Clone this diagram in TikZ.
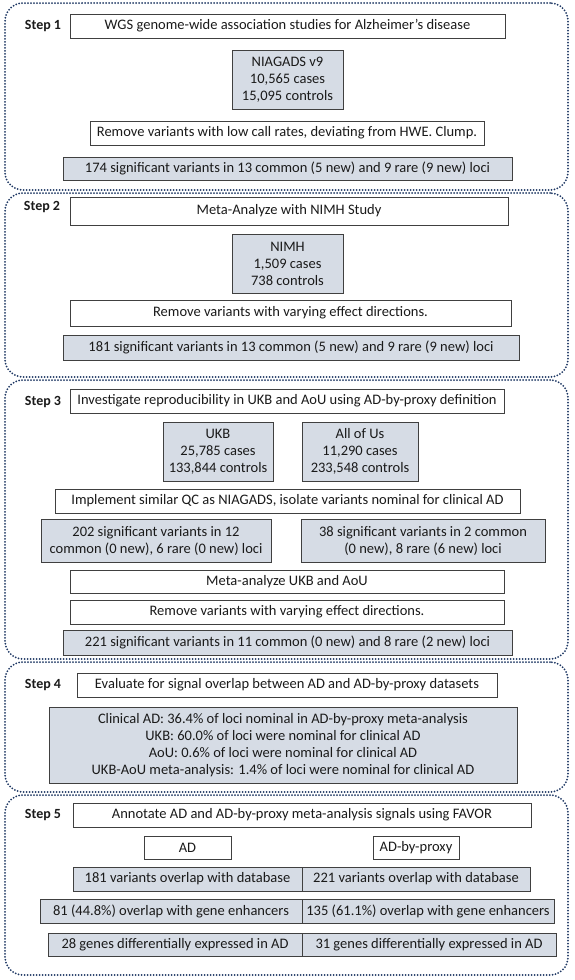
\documentclass[tikz,border=0pt]{standalone}
\usepackage{fontspec}
\setmainfont{Carlito}
\definecolor{panelblue}{HTML}{1F3864}
\definecolor{boxfill}{HTML}{D6DCE5}
\definecolor{boxline}{HTML}{404040}
\definecolor{txt}{HTML}{1A1A1A}
\newcommand\bbox[7]{\node[#1, minimum width={(#5-#3)*1pt}, minimum height={(#6-#4)*1pt}] (#2) at ({(#3+#5)/2},{(#4+#6)/2}) {#7};}
\begin{document}
\begin{tikzpicture}[x=1pt,y=-1pt,
  basebox/.style={draw=boxline, line width=0.9pt, inner sep=0pt, align=center, text=txt,
    font=\fontsize{14.5}{17}\selectfont},
  wbox/.style={basebox, fill=white},
  gbox/.style={basebox, fill=boxfill},
  panel/.style={draw=panelblue, line width=2pt, line cap=round, dash pattern=on 0pt off 3pt,
    rounded corners=18pt, inner sep=0pt},
  steplabel/.style={font=\bfseries\fontsize{14}{16}\selectfont, text=txt, inner sep=0pt}]
\useasboundingbox (0,0) rectangle (575,980);
% panels
\bbox{panel}{p1}{5}{3}{568}{190}{}
\bbox{panel}{p2}{5}{193}{568}{377}{}
\bbox{panel}{p3}{5}{380}{568}{659}{}
\bbox{panel}{p4}{5}{662}{568}{792}{}
\bbox{panel}{p5}{5}{795}{568}{975}{}
% Step 1
\node[steplabel] (s1) at (43,26) {Step 1};
\bbox{wbox}{t1}{70}{14}{505}{38}{WGS genome-wide association studies for Alzheimer’s disease}
\bbox{gbox}{niagads}{232}{50}{343}{109}{NIAGADS v9\\10,565 cases\\15,095 controls}
\bbox{wbox}{r1}{90}{121}{484}{145}{Remove variants with low call rates, deviating from HWE. Clump.}
\bbox{gbox}{res1}{63}{157}{512}{180}{174 significant variants in 13 common (5 new) and 9 rare (9 new) loci}
% Step 2
\node[steplabel] (s2) at (42,207) {Step 2};
\bbox{wbox}{t2}{70}{197}{508}{225}{Meta-Analyze with NIMH Study}
\bbox{gbox}{nimh}{232}{234}{343}{293}{NIMH\\1,509 cases\\738 controls}
\bbox{wbox}{r2}{70}{300}{511}{326}{Remove variants with varying effect directions.}
\bbox{gbox}{res2}{63}{335}{519}{360}{181 significant variants in 13 common (5 new) and 9 rare (9 new) loci}
% Step 3
\node[steplabel] (s3) at (43,402) {Step 3};
\bbox{wbox}{t3}{70}{389}{504}{413}{Investigate reproducibility in UKB and AoU using AD-by-proxy definition}
\bbox{gbox}{ukb}{163}{422}{273}{481}{UKB\\25,785 cases\\133,844 controls}
\bbox{gbox}{aou}{302}{422}{418}{481}{All of Us\\11,290 cases\\233,548 controls}
\bbox{wbox}{impl}{55}{489}{520}{513}{Implement similar QC as NIAGADS, isolate variants nominal for clinical AD}
\bbox{gbox}{r202}{41}{519}{271}{562}{202 significant variants in 12\\common (0 new), 6 rare (0 new) loci}
\bbox{gbox}{r38}{301}{519}{545}{562}{38 significant variants in 2 common\\(0 new), 8 rare (6 new) loci}
\bbox{wbox}{meta}{70}{570}{504}{593}{Meta-analyze UKB and AoU}
\bbox{wbox}{r3}{70}{600}{504}{624}{Remove variants with varying effect directions.}
\bbox{gbox}{res3}{63}{630}{512}{655}{221 significant variants in 11 common (0 new) and 8 rare (2 new) loci}
% Step 4
\node[steplabel] (s4) at (43,685) {Step 4};
\bbox{wbox}{t4}{77}{673}{497}{697}{Evaluate for signal overlap between AD and AD-by-proxy datasets}
\bbox{gbox}{big}{49}{707}{517}{783}{Clinical AD: 36.4\% of loci nominal in AD-by-proxy meta-analysis\\UKB: 60.0\% of loci were nominal for clinical AD\\AoU: 0.6\% of loci were nominal for clinical AD\\UKB-AoU meta-analysis: 1.4\% of loci were nominal for clinical AD}
% Step 5
\node[steplabel] (s5) at (43,815) {Step 5};
\bbox{wbox}{t5}{73}{803}{531}{827}{Annotate AD and AD-by-proxy meta-analysis signals using FAVOR}
\bbox{wbox}{ad}{144}{836}{231}{859}{AD}
\bbox{wbox}{adp}{373}{836}{459}{859}{AD-by-proxy}
\bbox{gbox}{v181}{73}{867}{302}{891}{181 variants overlap with database}
\bbox{gbox}{v221}{302}{867}{530}{891}{221 variants overlap with database}
\bbox{gbox}{e81}{40}{899}{302}{923}{81 (44.8\%) overlap with gene enhancers}
\bbox{gbox}{e135}{302}{899}{554}{923}{135 (61.1\%) overlap with gene enhancers}
\bbox{gbox}{g28}{48}{933}{302}{956}{28 genes differentially expressed in AD}
\bbox{gbox}{g31}{302}{933}{556}{956}{31 genes differentially expressed in AD}
\end{tikzpicture}
\end{document}
